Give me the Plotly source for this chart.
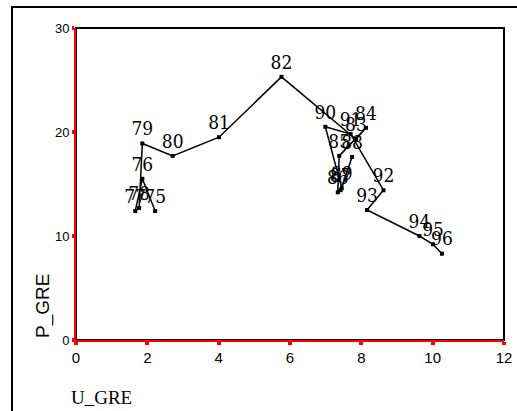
import plotly.graph_objects as go

years = ["75", "76", "77", "78", "79", "80", "81", "82", "83", "84", "85",
         "86", "87", "88", "89", "90", "91", "92", "93", "94", "95", "96"]
u_gre = [2.22, 1.86, 1.66, 1.77, 1.86, 2.71, 4.01, 5.76, 7.85, 8.13, 7.38,
         7.34, 7.42, 7.74, 7.45, 6.99, 7.70, 8.62, 8.16, 9.63, 10.01, 10.26]
p_gre = [12.4, 15.5, 12.4, 12.7, 18.9, 17.7, 19.5, 25.3, 19.3, 20.4, 17.7,
         14.2, 14.4, 17.6, 14.6, 20.5, 19.8, 14.4, 12.5, 10.0, 9.2, 8.3]

x_ticks = [0, 2, 4, 6, 8, 10, 12]
y_ticks = [0, 10, 20, 30]

L, R, T, B = 76, 13, 28, 71
W, H = 517, 411
PW, PH = W - L - R, H - T - B


def px(xp):
    return (xp - L) / PW


def py(yp):
    return (H - B - yp) / PH


fig = go.Figure()
fig.add_trace(go.Scatter(
    x=u_gre, y=p_gre, mode="lines+markers+text",
    text=years, textposition="top center",
    textfont=dict(family="DejaVu Serif Condensed, Liberation Serif", size=19, color="black"),
    line=dict(color="black", width=1.5),
    marker=dict(symbol="square", size=4, color="black"),
    cliponaxis=False, showlegend=False,
))

fig.update_layout(
    width=W, height=H, autosize=False,
    margin=dict(l=L, r=R, t=T, b=B, pad=0),
    paper_bgcolor="white", plot_bgcolor="white",
    xaxis=dict(range=[0, 12], tickvals=x_ticks, showgrid=False, zeroline=False,
               showline=True, linecolor="red", linewidth=2, automargin=False,
               ticks="outside", ticklen=3, tickwidth=4, tickcolor="red",
               tickfont=dict(family="Liberation Sans", size=15, color="black")),
    yaxis=dict(range=[0, 30], tickvals=y_ticks, showgrid=False, zeroline=False,
               showline=True, linecolor="red", linewidth=2, automargin=False,
               ticks="outside", ticklen=2, tickwidth=4, tickcolor="red",
               tickfont=dict(family="Liberation Sans", size=13, color="black")),
    shapes=[
        dict(type="rect", xref="paper", yref="paper", x0=0, y0=0, x1=1, y1=1,
             line=dict(color="black", width=2), layer="below"),
        dict(type="rect", xref="paper", yref="paper", x0=px(12), y0=py(420),
             x1=px(522), y1=py(7), line=dict(color="black", width=2)),
    ],
    annotations=[
        dict(text="P_GRE", xref="paper", yref="paper", x=px(43), y=py(306),
             xanchor="center", yanchor="middle", showarrow=False, textangle=-90,
             font=dict(family="Liberation Sans", size=19, color="black")),
        dict(text="U_GRE", xref="paper", yref="paper", x=px(101), y=py(397),
             xanchor="center", yanchor="middle", showarrow=False,
             font=dict(family="Liberation Serif", size=19, color="black")),
    ],
)

fig.write_html("out.html")
